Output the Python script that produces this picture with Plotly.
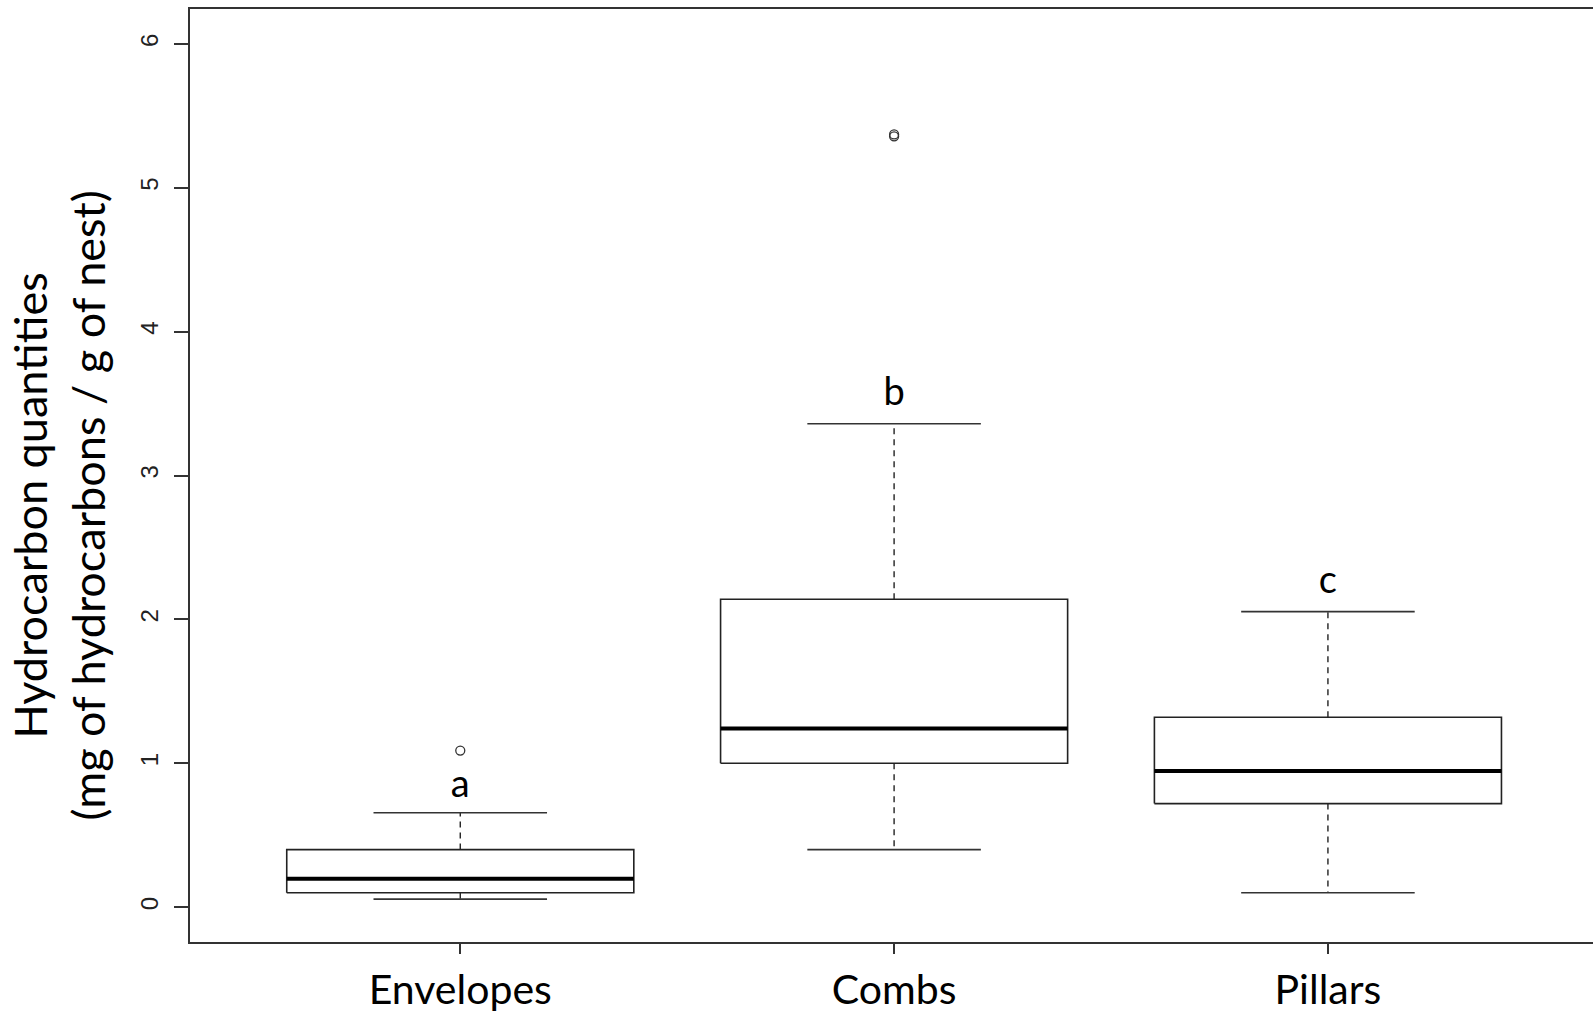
import plotly.graph_objects as go

categories = ["Envelopes", "Combs", "Pillars"]
lower_whisker = [0.056, 0.40, 0.10]
q1 = [0.10, 1.00, 0.72]
median = [0.198, 1.242, 0.946]
q3 = [0.40, 2.14, 1.32]
upper_whisker = [0.656, 3.36, 2.054]
outlier_cat = [1, 2, 2]
outlier_val = [1.088, 5.357, 5.370]
letters = ["a", "b", "c"]
letter_y = [0.833, 3.558, 2.252]
yticks = [0, 1, 2, 3, 4, 5, 6]
ytitle = "Hydrocarbon quantities<br>(mg of hydrocarbons / g of nest)"

BOX_HALF = 0.4
CAP_HALF = 0.2
FONT = "Lato"

fig = go.Figure()
for i, cat in enumerate(categories):
    x = i + 1
    fig.add_trace(go.Scatter(
        x=[x - BOX_HALF, x + BOX_HALF, x + BOX_HALF, x - BOX_HALF, x - BOX_HALF],
        y=[q1[i], q1[i], q3[i], q3[i], q1[i]],
        mode="lines", line=dict(color="#222", width=1.6), hoverinfo="skip"))
    fig.add_trace(go.Scatter(
        x=[x - BOX_HALF, x + BOX_HALF], y=[median[i], median[i]],
        mode="lines", line=dict(color="#000", width=4), hoverinfo="skip"))
    fig.add_trace(go.Scatter(
        x=[x, x, None, x, x],
        y=[q3[i], upper_whisker[i], None, q1[i], lower_whisker[i]],
        mode="lines", line=dict(color="#222", width=1.4, dash="6px,5px"), hoverinfo="skip"))
    fig.add_trace(go.Scatter(
        x=[x - CAP_HALF, x + CAP_HALF, None, x - CAP_HALF, x + CAP_HALF],
        y=[upper_whisker[i], upper_whisker[i], None, lower_whisker[i], lower_whisker[i]],
        mode="lines", line=dict(color="#333", width=1.6), hoverinfo="skip"))

fig.add_trace(go.Scatter(
    x=outlier_cat, y=outlier_val, mode="markers",
    marker=dict(symbol="circle-open", size=9, color="#333", line=dict(width=1.3)),
    hoverinfo="skip"))

fig.add_trace(go.Scatter(
    x=[1, 2, 3], y=letter_y, mode="text", text=letters,
    textfont=dict(family=FONT, size=38, color="#000"), hoverinfo="skip"))

fig.add_annotation(
    text=ytitle, textangle=-90, showarrow=False,
    xref="paper", yref="paper", x=-0.0, xshift=-131, y=0.5, yshift=-30,
    xanchor="center", yanchor="middle",
    font=dict(family=FONT, size=45, color="#000"))

fig.update_layout(
    width=1593, height=1015,
    margin=dict(l=190, r=0, t=9, b=73),
    paper_bgcolor="white", plot_bgcolor="white",
    showlegend=False,
    xaxis=dict(
        range=[0.377, 3.611], tickvals=[1, 2, 3], ticktext=categories,
        showgrid=False, zeroline=False, showline=True, linecolor="#333", linewidth=2,
        mirror=True, ticks="outside", ticklen=10, tickwidth=1.5, tickcolor="#333",
        automargin=False, ticklabelstandoff=1,
        tickfont=dict(family=FONT, size=41, color="#000")),
    yaxis=dict(
        range=[-0.242, 6.242], tickvals=yticks,
        showgrid=False, zeroline=False, showline=True, linecolor="#333", linewidth=2,
        ticks="outside", ticklen=14, tickwidth=1.5, tickcolor="#333",
        tickangle=-90, automargin=False, ticklabelstandoff=6,
        tickfont=dict(family="Liberation Sans", size=24, color="#222")),
)

fig.write_html(
    "out.html",
    config={"displayModeBar": False},
    post_script="document.body.style.margin='0';document.body.style.overflow='hidden';",
)
